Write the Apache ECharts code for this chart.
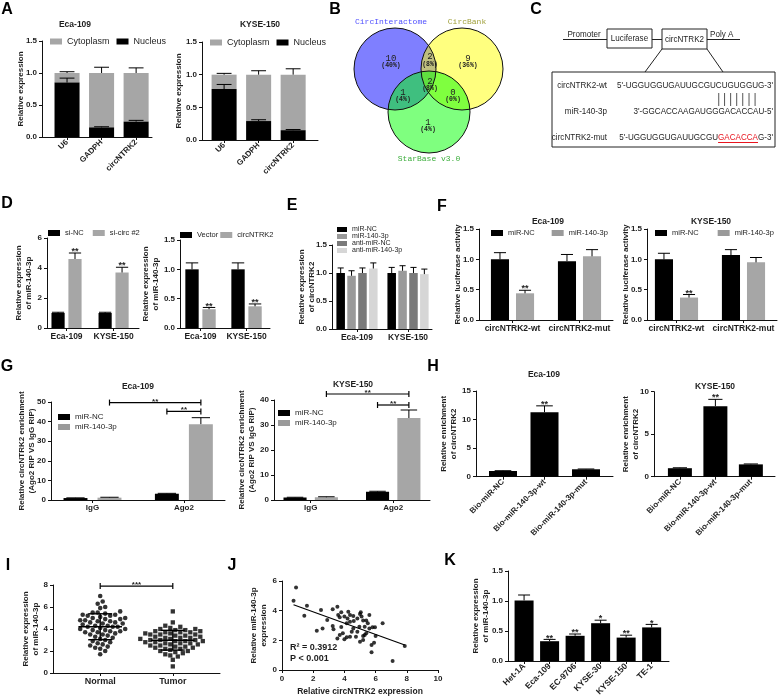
<!DOCTYPE html>
<html><head><meta charset="utf-8">
<script src="https://cdn.jsdelivr.net/npm/echarts@6/dist/echarts.min.js"></script>
<style>html,body{margin:0;padding:0;background:#fff}#c{width:778px;height:700px}</style>
</head><body><div id="c"></div><script>
// ================= DATA =================
// A: subcellular fractionation
const A_cats = ['U6', 'GADPH', 'circNTRK2'];
const A1_nucleus = [0.85, 0.15, 0.24];
const A1_nucleusSD = [0.07, 0.01, 0.02];
const A1_cyto = [0.15, 0.85, 0.76];
const A1_totalSD = [0.02, 0.09, 0.08];
const A2_nucleus = [0.78, 0.29, 0.15];
const A2_nucleusSD = [0.07, 0.02, 0.01];
const A2_cyto = [0.22, 0.71, 0.85];
const A2_totalSD = [0.02, 0.06, 0.09];
// B: Venn
const B_sets = ['CircInteractome', 'CircBank', 'StarBase v3.0'];
// regions: onlyA, AB, onlyB, AC, ABC, BC, onlyC
const B_counts = [10, 2, 9, 1, 2, 0, 1];
// C: sequences
const C_labels = ['circNTRK2-wt', 'miR-140-3p', 'circNTRK2-mut'];
const C_wt = "5'-UGGUGGUGAUUGCGUCUGUGGUG-3'";
const C_mir = "3'-GGCACCAAGAUGGGACACCAU-5'";
const C_mutParts = ["5'-UGGUGGUGAUUGCGU", "GACACCA", "G-3'"];
const C_pairStart = 18, C_pairLen = 7;
// D
const D_cats = ['Eca-109', 'KYSE-150'];
const D1_siNC = [1.0, 1.0], D1_siNC_SD = [0.05, 0.05];
const D1_siCirc = [4.6, 3.7], D1_siCirc_SD = [0.4, 0.35];
const D1_stars = ['**', '**'];
const D2_vector = [1.0, 1.0], D2_vector_SD = [0.11, 0.11];
const D2_circ = [0.32, 0.37], D2_circ_SD = [0.03, 0.04];
const D2_stars = ['**', '**'];
// E
const E_cats = ['Eca-109', 'KYSE-150'];
const E_names = ['miR-NC', 'miR-140-3p', 'anti-miR-NC', 'anti-miR-140-3p'];
const E_vals = [[1.0, 1.0], [0.95, 1.04], [1.0, 1.0], [1.08, 0.98]];
const E_sds = [[0.09, 0.1], [0.09, 0.09], [0.09, 0.1], [0.1, 0.09]];
// F
const F_cats = ['circNTRK2-wt', 'circNTRK2-mut'];
const F1_NC = [1.0, 0.97], F1_NC_SD = [0.11, 0.11];
const F1_140 = [0.44, 1.05], F1_140_SD = [0.05, 0.11];
const F2_NC = [1.0, 1.07], F2_NC_SD = [0.1, 0.09];
const F2_140 = [0.37, 0.95], F2_140_SD = [0.05, 0.08];
const F_stars = ['**', ''];
// G
const G_cats = ['IgG', 'Ago2'];
const G1_NC = [1.0, 3.2], G1_NC_SD = [0.1, 0.2];
const G1_140 = [1.2, 38.7], G1_140_SD = [0.2, 3.3];
const G2_NC = [1.0, 3.3], G2_NC_SD = [0.1, 0.2];
const G2_140 = [1.1, 32.8], G2_140_SD = [0.2, 3.2];
// brackets: [fromCategory, fromSeries, toCategory, toSeries, yValue, label]
const G1_brackets = [[0, 1, 1, 1, 49.7, '**'], [1, 0, 1, 1, 45.2, '**']];
const G2_brackets = [[0, 1, 1, 1, 42.4, '**'], [1, 0, 1, 1, 38.0, '**']];
// H
const H_cats = ['Bio-miR-NC', 'Bio-miR-140-3p-wt', 'Bio-miR-140-3p-mut'];
const H1_vals = [1.0, 11.3, 1.3], H1_SD = [0.05, 1.1, 0.05];
const H2_vals = [1.0, 8.3, 1.45], H2_SD = [0.05, 0.8, 0.05];
const H_stars = ['', '**', ''];
// I
const I_cats = ['Normal', 'Tumor'];
const I_normal = [7.0, 6.5, 6.3, 6.0, 5.9, 5.6, 5.5, 5.5, 5.4, 5.3, 5.3, 5.2, 5.2, 5.1, 5.0, 5.0, 4.9, 4.9, 4.8, 4.8,
  4.7, 4.7, 4.6, 4.6, 4.5, 4.5, 4.4, 4.3, 4.3, 4.2, 4.2, 4.2, 4.1, 4.0, 4.0, 3.9, 3.9, 3.8, 3.8, 3.7,
  3.7, 3.6, 3.5, 3.5, 3.4, 3.3, 3.2, 3.1, 3.0, 2.9, 2.8, 2.7, 2.6, 2.5, 2.4, 2.3, 2.2, 2.0, 1.7];
const I_tumor = [5.6, 4.6, 4.3, 4.2, 4.1, 4.0, 4.0, 3.9, 3.9, 3.8, 3.8, 3.7, 3.7, 3.7, 3.6, 3.6, 3.5, 3.5, 3.5, 3.4,
  3.4, 3.3, 3.3, 3.2, 3.2, 3.2, 3.1, 3.1, 3.0, 3.0, 3.0, 2.9, 2.9, 2.9, 2.8, 2.8, 2.7, 2.7, 2.7, 2.6,
  2.6, 2.5, 2.5, 2.4, 2.4, 2.3, 2.3, 2.2, 2.2, 2.1, 2.0, 2.0, 1.9, 1.8, 1.7, 1.6, 1.5, 1.2, 0.6];
const I_bracket = [0, 1, 7.9, '***'];
// J
const J_circ = [0.74, 0.9, 1.43, 1.6, 2.23, 2.5, 2.6, 2.9, 3.25, 3.25, 3.3, 3.55, 3.6, 3.7, 3.8, 3.8, 3.55, 3.7, 3.9, 4.0,
  4.15, 4.25, 4.2, 4.36, 4.36, 4.47, 4.15, 4.36, 4.57, 4.57, 4.74, 4.83, 4.83, 4.96, 5.0, 5.05, 5.1, 5.2, 5.3, 5.4,
  5.5, 5.3, 5.2, 5.0, 5.4, 5.2, 5.6, 5.8, 5.96, 6.0, 5.74, 5.9, 5.74, 6.45, 7.09, 7.87, 5.6, 4.0, 4.6];
const J_mir = [4.67, 5.57, 3.66, 4.33, 2.65, 4.05, 2.8, 3.37, 4.1, 2.97, 2.75, 4.27, 3.7, 3.55, 3.9, 2.9, 2.13, 2.36, 2.47, 2.07,
  3.15, 3.93, 3.48, 3.7, 3.26, 2.58, 2.2, 2.25, 3.64, 2.8, 2.25, 3.48, 2.58, 2.92, 3.78, 3.9, 3.6, 3.33, 2.92, 3.33,
  3.15, 2.36, 2.02, 1.91, 2.47, 2.29, 2.8, 2.88, 2.88, 2.29, 1.69, 1.84, 1.19, 3.15, 0.6, 1.62, 3.7, 3.6, 3.3];
const J_stats = ['R\u00b2 = 0.3912', 'P < 0.001'];
// K
const K_cats = ['Het-1A', 'Eca-109', 'EC-9706', 'KYSE-30', 'KYSE-150', 'TE-1'];
const K_vals = [1.01, 0.33, 0.42, 0.63, 0.39, 0.56];
const K_SD = [0.09, 0.03, 0.03, 0.05, 0.04, 0.05];
const K_stars = ['', '**', '**', '*', '**', '*'];

// ================= HELPERS =================
const F = 'Liberation Sans';
const GRAY = '#a6a6a6';
const INK = '#1e1e1e';
const f1 = v => v.toFixed(1);
const idx = n => Array.from({length: n}, (_, i) => i);
const grids = [], xAxes = [], yAxes = [], series = [], legends = [], graphics = [];

function addPanel(p) {
  const gi = grids.length;
  grids.push({left: p.box[0], top: p.box[1], width: p.box[2], height: p.box[3]});
  const ticks = p.cats ? idx(p.cats.length) : null;
  const xa = p.xAxis || {
    type: 'value', min: p.xmin, max: p.xmax,
    axisTick: {show: true, customValues: ticks, length: 3, lineStyle: {color: '#111'}},
    axisLabel: {customValues: ticks, formatter: v => p.cats[Math.round(v)] || '', rotate: p.rotate || 0,
      color: INK, fontFamily: F, fontWeight: 'bold', fontSize: p.xfs || 8, margin: p.xmargin || 4}
  };
  xa.gridIndex = gi;
  xa.axisLine = {show: true, onZero: false, lineStyle: {color: '#111', width: 1}};
  xa.splitLine = {show: false};
  xa.nameMoveOverlap = false;
  xAxes.push(xa);
  yAxes.push({gridIndex: gi, type: 'value', min: 0, max: p.ymax, interval: p.yint,
    axisLine: {show: true, onZero: false, lineStyle: {color: '#111', width: 1}},
    axisTick: {show: true, length: 3, lineStyle: {color: '#111'}},
    axisLabel: {color: INK, fontFamily: F, fontWeight: 'bold', fontSize: p.yfs || 8, margin: 5, formatter: p.yfmt || (v => String(v))},
    splitLine: {show: false},
    name: p.yname, nameLocation: 'middle', nameRotate: 90, nameGap: p.nameGap, nameMoveOverlap: false,
    nameTextStyle: {fontFamily: F, fontWeight: 'bold', fontSize: p.nfs || 8, color: INK, lineHeight: p.nlh || 10}
  });
  return gi;
}

function barSeries(gi, name, color, xs, vals, sds, bases, stars, bw, cap, starFs) {
  const data = xs.map((x, i) => [x, vals[i], sds ? sds[i] : 0, bases ? bases[i] : 0]);
  return {type: 'custom', name, xAxisIndex: gi, yAxisIndex: gi, clip: false, itemStyle: {color},
    dimensions: ['x', 'v', 'sd', 'base'], encode: {x: 0, y: 1}, data,
    renderItem: function (params, api) {
      const x = api.value(0), v = api.value(1), sd = api.value(2), b = api.value(3);
      const p0 = api.coord([x - bw / 2, b]), p1 = api.coord([x + bw / 2, b + v]);
      const cx = (p0[0] + p1[0]) / 2;
      const ch = [{type: 'rect', shape: {x: p0[0], y: p1[1], width: p1[0] - p0[0], height: p0[1] - p1[1]}, style: {fill: color}}];
      let topY = p1[1];
      if (sd > 0) {
        topY = api.coord([x, b + v + sd])[1];
        const hw = api.size([cap, 0])[0] / 2;
        ch.push({type: 'line', shape: {x1: cx, y1: p1[1], x2: cx, y2: topY}, style: {stroke: '#000', lineWidth: 1}});
        ch.push({type: 'line', shape: {x1: cx - hw, y1: topY, x2: cx + hw, y2: topY}, style: {stroke: '#000', lineWidth: 1}});
      }
      const s = stars && stars[params.dataIndex];
      if (s) {
        const fs = starFs || 9;
        ch.push({type: 'text', style: {x: cx, y: topY + fs * 0.35, text: s, align: 'center', verticalAlign: 'bottom',
          fontFamily: F, fontSize: fs, fontWeight: 'bold', fill: INK}});
      }
      return {type: 'group', children: ch};
    }};
}

function bracketSeries(gi, items, offs, fs) {
  const data = items.map(b => [b[0] + offs[b[1]], b[2] + offs[b[3]], b[4]]);
  return {type: 'custom', xAxisIndex: gi, yAxisIndex: gi, clip: false, silent: true,
    dimensions: ['x1', 'x2', 'y'], encode: {x: [0, 1], y: 2}, data,
    renderItem: function (params, api) {
      const a = api.coord([api.value(0), api.value(2)]), b = api.coord([api.value(1), api.value(2)]);
      const y = a[1], lab = items[params.dataIndex][5];
      const st = {stroke: '#000', lineWidth: 1.2};
      return {type: 'group', children: [
        {type: 'line', shape: {x1: a[0], y1: y, x2: b[0], y2: y}, style: st},
        {type: 'line', shape: {x1: a[0], y1: y - 3, x2: a[0], y2: y + 3}, style: st},
        {type: 'line', shape: {x1: b[0], y1: y - 3, x2: b[0], y2: y + 3}, style: st},
        {type: 'text', style: {x: (a[0] + b[0]) / 2, y: y + fs * 0.35, text: lab, align: 'center', verticalAlign: 'bottom',
          fontFamily: F, fontSize: fs, fontWeight: 'bold', fill: INK}}
      ]};
    }};
}

function leg(left, top, names, o) {
  o = o || {};
  return {left, top, orient: o.orient || 'horizontal', data: names, icon: 'rect',
    itemWidth: o.iw || 12, itemHeight: o.ih || 6, itemGap: o.gap == null ? 6 : o.gap, padding: 0, selectedMode: false,
    textStyle: {fontFamily: F, fontSize: o.fs || 8, color: INK, lineHeight: o.lh}};
}

function txt(s, x, y, font, align, fill, vAlign) {
  return {type: 'text', x, y, silent: true, style: {text: s, x: 0, y: 0, font, fill: fill || INK, align: align || 'center', verticalAlign: vAlign || 'middle'}};
}

// ================= PANELS =================
// ---- A ----
let gi = addPanel({box: [42, 41, 110, 96], cats: A_cats, xmin: -0.725, xmax: 2.46, rotate: 45, ymax: 1.5, yint: 0.5, yfmt: f1,
  yname: 'Relative expression', nameGap: 16.5});
series.push(barSeries(gi, 'Cytoplasm', GRAY, idx(3), A1_cyto, A1_totalSD, A1_nucleus, null, 0.725, 0.43));
series.push(barSeries(gi, 'Nucleus', '#000', idx(3), A1_nucleus, A1_nucleusSD, null, null, 0.725, 0.43));
legends.push(leg(50, 37, ['Cytoplasm', 'Nucleus'], {fs: 9, gap: 7}));
gi = addPanel({box: [202, 42, 116, 98], cats: A_cats, xmin: -0.64, xmax: 2.72, rotate: 45, ymax: 1.5, yint: 0.5, yfmt: f1,
  yname: 'Relative expression', nameGap: 18});
series.push(barSeries(gi, 'Cytoplasm', GRAY, idx(3), A2_cyto, A2_totalSD, A2_nucleus, null, 0.725, 0.43));
series.push(barSeries(gi, 'Nucleus', '#000', idx(3), A2_nucleus, A2_nucleusSD, null, null, 0.725, 0.43));
legends.push(leg(210, 38, ['Cytoplasm', 'Nucleus'], {fs: 9, gap: 7}));

// ---- D ----
gi = addPanel({box: [47, 238, 92, 90], cats: D_cats, xmin: -0.415, xmax: 1.54, ymax: 6, yint: 2, xfs: 8.5,
  yname: 'Relative expression\nof miR-140-3p', nameGap: 13});
series.push(barSeries(gi, 'si-NC', '#000', idx(2).map(i => i - 0.18), D1_siNC, D1_siNC_SD, null, null, 0.28, 0.26));
series.push(barSeries(gi, 'si-circ #2', GRAY, idx(2).map(i => i + 0.18), D1_siCirc, D1_siCirc_SD, null, D1_stars, 0.28, 0.26));
legends.push(leg(48, 229, ['si-NC', 'si-circ #2'], {fs: 7.5, gap: 9}));
gi = addPanel({box: [180, 240, 90, 88], cats: D_cats, xmin: -0.446, xmax: 1.51, ymax: 1.5, yint: 0.5, yfmt: f1, xfs: 8.5,
  yname: 'Relative expression\nof miR-140-3p', nameGap: 19});
series.push(barSeries(gi, 'Vector', '#000', idx(2).map(i => i - 0.185), D2_vector, D2_vector_SD, null, null, 0.29, 0.27));
series.push(barSeries(gi, 'circNTRK2', GRAY, idx(2).map(i => i + 0.185), D2_circ, D2_circ_SD, null, D2_stars, 0.29, 0.27));
legends.push(leg(180, 231, ['Vector', 'circNTRK2'], {fs: 7.5, gap: 2}));

// ---- E ----
const E_colors = ['#000000', '#9a9a9a', '#7a7a7a', '#d6d6d6'];
const E_offs = [-0.32, -0.107, 0.107, 0.32];
gi = addPanel({box: [332, 245, 100, 84], cats: E_cats, xmin: -0.49, xmax: 1.47, ymax: 1.5, yint: 0.5, yfmt: f1, xfs: 8.5,
  yname: 'Relative expression\nof circNTRK2', nameGap: 15});
E_names.forEach((n, k) => series.push(barSeries(gi, n, E_colors[k], idx(2).map(i => i + E_offs[k]), E_vals[k], E_sds[k], null, null, 0.167, 0.12)));
legends.push(leg(337, 226, E_names, {orient: 'vertical', fs: 7, iw: 10, ih: 5, gap: 0, lh: 6}));

// ---- F ----
gi = addPanel({box: [479, 229, 134, 91], cats: F_cats, xmin: -0.5, xmax: 1.5, ymax: 1.5, yint: 0.5, yfmt: f1, xfs: 8.5,
  yname: 'Relative luciferase activity', nameGap: 16.5});
series.push(barSeries(gi, 'miR-NC', '#000', idx(2).map(i => i - 0.187), F1_NC, F1_NC_SD, null, null, 0.27, 0.18));
series.push(barSeries(gi, 'miR-140-3p', GRAY, idx(2).map(i => i + 0.187), F1_140, F1_140_SD, null, F_stars, 0.27, 0.18));
legends.push(leg(491, 229, ['miR-NC', 'miR-140-3p'], {fs: 7.5, gap: 17}));
gi = addPanel({box: [647, 229, 130, 91], cats: F_cats, xmin: -0.44, xmax: 1.5, ymax: 1.5, yint: 0.5, yfmt: f1, xfs: 8.5,
  yname: 'Relative luciferase activity', nameGap: 16.5});
series.push(barSeries(gi, 'miR-NC', '#000', idx(2).map(i => i - 0.187), F2_NC, F2_NC_SD, null, null, 0.27, 0.18));
series.push(barSeries(gi, 'miR-140-3p', GRAY, idx(2).map(i => i + 0.187), F2_140, F2_140_SD, null, F_stars, 0.27, 0.18));
legends.push(leg(655, 229, ['miR-NC', 'miR-140-3p'], {fs: 7.5, gap: 19}));

// ---- G ----
let offs = [-0.186, 0.186];
gi = addPanel({box: [51, 402, 174, 98], cats: G_cats, xmin: -0.454, xmax: 1.45, ymax: 50, yint: 10, xfs: 8,
  yname: 'Relative circNTRK2 enrichment\n(Ago2 RIP VS IgG RIP)', nameGap: 14});
series.push(barSeries(gi, 'miR-NC', '#000', idx(2).map(i => i + offs[0]), G1_NC, G1_NC_SD, null, null, 0.262, 0.2));
series.push(barSeries(gi, 'miR-140-3p', GRAY, idx(2).map(i => i + offs[1]), G1_140, G1_140_SD, null, null, 0.262, 0.2));
series.push(bracketSeries(gi, G1_brackets, offs, 8));
legends.push(leg(58, 412, ['miR-NC', 'miR-140-3p'], {orient: 'vertical', fs: 8, gap: 0, lh: 10}));
offs = [-0.19, 0.19];
gi = addPanel({box: [274, 400, 156, 100], cats: G_cats, xmin: -0.445, xmax: 1.446, ymax: 40, yint: 10, xfs: 8,
  yname: 'Relative circNTRK2 enrichment\n(Ago2 RIP VS IgG RIP)', nameGap: 17});
series.push(barSeries(gi, 'miR-NC', '#000', idx(2).map(i => i + offs[0]), G2_NC, G2_NC_SD, null, null, 0.28, 0.2));
series.push(barSeries(gi, 'miR-140-3p', GRAY, idx(2).map(i => i + offs[1]), G2_140, G2_140_SD, null, null, 0.28, 0.2));
series.push(bracketSeries(gi, G2_brackets, offs, 8));
legends.push(leg(278, 408, ['miR-NC', 'miR-140-3p'], {orient: 'vertical', fs: 8, gap: 0, lh: 10}));

// ---- H ----
gi = addPanel({box: [476, 391, 137, 85.7], cats: H_cats, xmin: -0.65, xmax: 2.65, rotate: 45, ymax: 15, yint: 5, xfs: 8,
  yname: 'Relative enrichment\nof circNTRK2', nameGap: 17});
series.push(barSeries(gi, 'H1', '#000', idx(3), H1_vals, H1_SD, null, H_stars, 0.675, 0.4));
gi = addPanel({box: [654, 391.7, 121, 85], cats: H_cats, xmin: -0.73, xmax: 2.68, rotate: 45, ymax: 10, yint: 5, xfs: 8,
  yname: 'Relative enrichment\nof circNTRK2', nameGap: 13});
series.push(barSeries(gi, 'H2', '#000', idx(3), H2_vals, H2_SD, null, H_stars, 0.676, 0.4));

// ---- I ----
function beeswarm(vals, pxX, pxY, d) {
  const order = idx(vals.length).sort((a, b) => vals[a] - vals[b]);
  const placed = [], out = new Array(vals.length);
  for (const i of order) {
    const y = vals[i] * pxY;
    let k = 0, x = 0;
    for (;;) {
      const c = k === 0 ? 0 : (k % 2 ? 1 : -1) * Math.ceil(k / 2) * d * 0.5;
      if (placed.every(p => Math.hypot(p[0] - c, p[1] - y) >= d)) { x = c; break; }
      k++;
    }
    placed.push([x, y]);
    out[i] = x / pxX;
  }
  return out;
}
const I_box = [53, 585, 167, 88], I_xmin = -0.65, I_xmax = 1.65, I_ymax = 8;
gi = addPanel({box: I_box, cats: I_cats, xmin: I_xmin, xmax: I_xmax, ymax: I_ymax, yint: 2, xfs: 9,
  yname: 'Relative expression\nof miR-140-3p', nameGap: 12});
const pxX = I_box[2] / (I_xmax - I_xmin), pxY = I_box[3] / I_ymax;
[[I_normal, 'circle'], [I_tumor, 'rect']].forEach(([vals, sym], g) => {
  const o = beeswarm(vals, pxX, pxY, 5.0);
  series.push({type: 'scatter', xAxisIndex: gi, yAxisIndex: gi, symbol: sym, symbolSize: sym === 'rect' ? 4.3 : 4.6,
    itemStyle: {color: '#000'}, data: vals.map((v, i) => [g + o[i], v])});
});
const stat = a => { const m = a.reduce((s, v) => s + v, 0) / a.length; const sd = Math.sqrt(a.reduce((s, v) => s + (v - m) * (v - m), 0) / (a.length - 1)); return [m, sd]; };
series.push({type: 'custom', xAxisIndex: gi, yAxisIndex: gi, clip: false, silent: true, z: 5,
  dimensions: ['x', 'm', 'sd'], encode: {x: 0, y: 1},
  data: [I_normal, I_tumor].map((a, g) => [g].concat(stat(a))),
  renderItem: function (params, api) {
    const x = api.value(0), m = api.value(1), sd = api.value(2);
    const st = {stroke: '#000', lineWidth: 1.4};
    const pm0 = api.coord([x - 0.3, m]), pm1 = api.coord([x + 0.3, m]);
    const pt = api.coord([x, m + sd]), pb = api.coord([x, m - sd]);
    const hw = api.size([0.165, 0])[0];
    return {type: 'group', children: [
      {type: 'line', shape: {x1: pm0[0], y1: pm0[1], x2: pm1[0], y2: pm1[1]}, style: st},
      {type: 'line', shape: {x1: pt[0], y1: pt[1], x2: pb[0], y2: pb[1]}, style: st},
      {type: 'line', shape: {x1: pt[0] - hw, y1: pt[1], x2: pt[0] + hw, y2: pt[1]}, style: st},
      {type: 'line', shape: {x1: pb[0] - hw, y1: pb[1], x2: pb[0] + hw, y2: pb[1]}, style: st}
    ]};
  }});
series.push(bracketSeries(gi, [[I_bracket[0], 0, I_bracket[1], 0, I_bracket[2], I_bracket[3]]], [0], 8));

// ---- J ----
gi = addPanel({box: [282, 581, 156, 89], ymax: 6, yint: 2,
  yname: 'Relative miR-140-3p\nexpression', nameGap: 13,
  xAxis: {type: 'value', min: 0, max: 10, interval: 2,
    axisTick: {show: true, length: 3, lineStyle: {color: '#111'}},
    axisLabel: {color: INK, fontFamily: F, fontWeight: 'bold', fontSize: 8, margin: 5},
    name: 'Relative circNTRK2 expression', nameLocation: 'middle', nameGap: 17,
    nameTextStyle: {fontFamily: F, fontWeight: 'bold', fontSize: 8.5, color: INK}}});
series.push({type: 'scatter', xAxisIndex: gi, yAxisIndex: gi, symbol: 'circle', symbolSize: 4,
  itemStyle: {color: '#000'}, data: J_circ.map((x, i) => [x, J_mir[i]])});
(function () {
  const n = J_circ.length;
  const mx = J_circ.reduce((s, v) => s + v, 0) / n, my = J_mir.reduce((s, v) => s + v, 0) / n;
  let sxy = 0, sxx = 0;
  for (let i = 0; i < n; i++) { sxy += (J_circ[i] - mx) * (J_mir[i] - my); sxx += (J_circ[i] - mx) ** 2; }
  const b = sxy / sxx, a = my - b * mx;
  const x0 = Math.min(...J_circ), x1 = Math.max(...J_circ);
  series.push({type: 'line', xAxisIndex: gi, yAxisIndex: gi, symbol: 'none', silent: true,
    lineStyle: {color: '#000', width: 1.2}, data: [[x0, a + b * x0], [x1, a + b * x1]]});
})();
graphics.push(txt(J_stats[0], 290, 648, 'bold 9px "Liberation Sans"', 'left'));
graphics.push(txt(J_stats[1], 290, 659, 'bold 9px "Liberation Sans"', 'left'));

// ---- K ----
gi = addPanel({box: [508, 571, 161, 90], cats: K_cats, xmin: -0.63, xmax: 5.68, rotate: 45, ymax: 1.5, yint: 0.5, yfmt: f1, xfs: 8.5,
  yname: 'Relative expression\nof miR-140-3p', nameGap: 17});
series.push(barSeries(gi, 'K', '#000', idx(6), K_vals, K_SD, null, K_stars, 0.745, 0.47));

// ================= GRAPHICS =================
const letters = [['A', 7, 10], ['B', 335, 10], ['C', 536, 10], ['D', 7, 204], ['E', 292, 206], ['F', 442, 207],
  ['G', 7, 367], ['H', 433, 367], ['I', 8, 566], ['J', 232, 566], ['K', 450, 561]];
letters.forEach(l => graphics.push(txt(l[0], l[1], l[2], 'bold 16px "Liberation Sans"', 'center', '#000')));
const titles = [['Eca-109', 75, 25], ['KYSE-150', 260, 25], ['Eca-109', 548, 222], ['KYSE-150', 711, 222],
  ['Eca-109', 138, 387], ['KYSE-150', 353, 385], ['Eca-109', 544, 375], ['KYSE-150', 715, 387]];
titles.forEach(t => graphics.push(txt(t[0], t[1], t[2], 'bold 8.5px "Liberation Sans"')));

// ---- B: Venn ----
const vennCircles = [[395, 69, 41, 'rgba(0,0,255,0.5)'], [462, 69, 41, 'rgba(255,255,0,0.5)'], [429, 112, 41, 'rgba(0,255,0,0.5)']];
vennCircles.forEach(c => graphics.push({type: 'circle', silent: true, shape: {cx: c[0], cy: c[1], r: c[2]}, style: {fill: c[3], stroke: 'none'}}));
vennCircles.forEach(c => graphics.push({type: 'circle', silent: true, shape: {cx: c[0], cy: c[1], r: c[2]}, style: {fill: 'none', stroke: '#111', lineWidth: 1}}));
const total = B_counts.reduce((s, v) => s + v, 0);
const vennPos = [[391, 59, 65], [430, 57, 64], [468, 59, 65], [403, 93, 99.5], [430, 82, 88.5], [453, 93, 99.5], [428, 123, 129]];
B_counts.forEach((c, i) => {
  graphics.push(txt(String(c), vennPos[i][0], vennPos[i][1], '9px "Liberation Mono"', 'center', '#222'));
  graphics.push(txt('(' + Math.round(c / total * 100) + '%)', vennPos[i][0], vennPos[i][2], 'bold 6.5px "Liberation Mono"', 'center', '#222'));
});
graphics.push(txt(B_sets[0], 391, 22, '8px "Liberation Mono"', 'center', '#5050ff'));
graphics.push(txt(B_sets[1], 467, 22, '8px "Liberation Mono"', 'center', '#9f9f3a'));
graphics.push(txt(B_sets[2], 429, 159, '8px "Liberation Mono"', 'center', '#3cae3c'));

// ---- C: construct ----
const cFont = '9.5px "Liberation Sans"';
const SX = 0.85;
const mctx = document.createElement('canvas').getContext('2d');
mctx.font = cFont;
const tw = s => mctx.measureText(s).width * SX;
function ctext(s, x, y, align, fill, vAlign) {
  return {type: 'text', x, y, scaleX: SX, silent: true, style: {text: s, x: 0, y: 0, font: cFont, fill: fill || INK, align, verticalAlign: vAlign || 'middle'}};
}
const ln = (x1, y1, x2, y2, c) => ({type: 'line', silent: true, shape: {x1, y1, x2, y2}, style: {stroke: c || '#222', lineWidth: 1}});
const box = (x, y, w, h) => ({type: 'rect', silent: true, shape: {x, y, width: w, height: h}, style: {fill: '#fff', stroke: '#222', lineWidth: 1}});
graphics.push(ln(563, 39.5, 740, 39.5));
graphics.push(box(607, 29, 45, 19), box(662, 29, 45, 20));
graphics.push(ctext('Promoter', 584, 39, 'center', INK, 'bottom'));
graphics.push(ctext('Poly A', 710, 39, 'left', INK, 'bottom'));
graphics.push(ctext('Luciferase', 629.5, 38.5, 'center'));
graphics.push(ctext('circNTRK2', 684.5, 39, 'center'));
graphics.push(ln(662, 49, 645, 72), ln(707, 49, 723, 72));
graphics.push(box(552, 72, 223, 75));
const rowY = [85, 111, 137];
C_labels.forEach((l, i) => graphics.push(ctext(l, 607, rowY[i], 'right')));
const R = 773;
graphics.push(ctext(C_wt, R, rowY[0], 'right'));
graphics.push(ctext(C_mir, R, rowY[1], 'right'));
const wtLeft = R - tw(C_wt);
for (let i = 0; i < C_pairLen; i++) {
  const k = C_pairStart + i;
  const x = wtLeft + tw(C_wt.slice(0, k)) + tw(C_wt[k]) / 2;
  graphics.push(ln(x, 93, x, 106, '#555'));
}
let xr = R;
const mutColors = [INK, '#e8141e', INK];
const mutX = [];
for (let i = 2; i >= 0; i--) { mutX[i] = xr; xr -= tw(C_mutParts[i]); }
C_mutParts.forEach((s, i) => graphics.push(ctext(s, mutX[i], rowY[2], 'right', mutColors[i])));
graphics.push(ln(mutX[1] - tw(C_mutParts[1]), 142.5, mutX[1], 142.5, '#e8141e'));

// ================= CHART =================
const chart = echarts.init(document.getElementById('c'), null, {renderer: 'canvas'});
chart.setOption({
  animation: false,
  backgroundColor: '#fff',
  textStyle: {fontFamily: F},
  grid: grids, xAxis: xAxes, yAxis: yAxes, series, legend: legends, graphic: graphics
});
</script></body></html>
